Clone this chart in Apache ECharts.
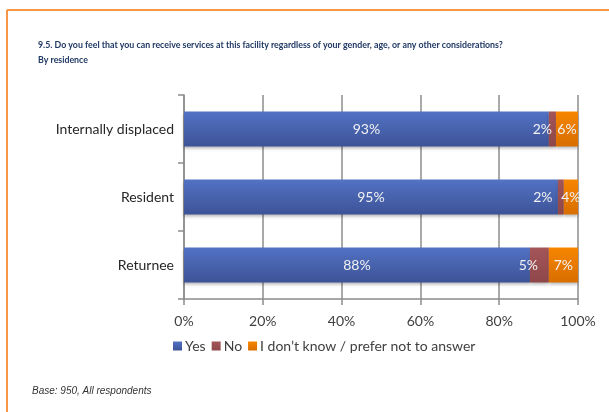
<!DOCTYPE html>
<html>
<head>
<meta charset="utf-8">
<script src="https://cdn.jsdelivr.net/npm/echarts@6/dist/echarts.min.js"></script>
<style>
  html, body { margin: 0; padding: 0; background: #ffffff; }
  #chart { width: 609px; height: 412px; }
</style>
</head>
<body>
<div id="chart"></div>
<script>
// Survey answers by residence group (share of respondents, %)
const categories = ['Internally displaced', 'Resident', 'Returnee'];
const yesValues = [92.6, 94.9, 87.8];
const noValues = [1.8, 1.5, 4.8];
const dontKnowValues = [5.6, 3.6, 7.4];
const seriesNames = ['Yes', 'No', 'I don\u2019t know / prefer not to answer'];
const xTicks = { min: 0, max: 100, step: 20 };

// Small horizontal nudges so the "No" labels do not collide with neighbours
const noLabelNudge = [-10, -18, -11];

const gridLeft = 184, gridTop = 95, gridRight = 31, gridHeight = 204;

function grad(top, bottom) {
  return new echarts.graphic.LinearGradient(0, 0, 0, 1, [
    { offset: 0, color: top },
    { offset: 1, color: bottom }
  ]);
}

const labelBase = {
  show: true,
  color: '#f2f2f2',
  fontFamily: 'Lato, "Open Sans", sans-serif',
  fontSize: 14,
  formatter: p => Math.round(p.value) + '%'
};

const barStyle = {
  shadowColor: 'rgba(0,0,0,0.28)',
  shadowBlur: 3,
  shadowOffsetY: 2
};

const chart = echarts.init(document.getElementById('chart'), null, { renderer: 'canvas' });

chart.setOption({
  animation: false,
  backgroundColor: '#ffffff',
  color: ['#4a64b4', '#9e4f52', '#f07c00'],
  grid: { left: gridLeft, top: gridTop, right: gridRight, height: gridHeight, containLabel: false },
  legend: {
    left: 168,
    top: 334,
    itemWidth: 9,
    itemHeight: 9,
    itemGap: 6,
    icon: 'rect',
    textStyle: { fontFamily: 'Lato, "Open Sans", sans-serif', fontSize: 14, color: '#404040', padding: [0, 0, 0, -2] },
    data: seriesNames
  },
  xAxis: {
    type: 'value',
    min: xTicks.min,
    max: xTicks.max,
    interval: xTicks.step,
    axisLine: { show: true, lineStyle: { color: '#8c8c8c', width: 1.5 } },
    axisTick: { show: true, length: 6, lineStyle: { color: '#8c8c8c', width: 1.5 } },
    splitLine: { show: true, lineStyle: { color: '#8c8c8c', width: 1.5 } },
    axisLabel: {
      formatter: '{value}%',
      margin: 15,
      fontFamily: 'Lato, "Open Sans", sans-serif',
      fontSize: 14,
      color: '#404040'
    }
  },
  yAxis: {
    type: 'category',
    inverse: true,
    data: categories,
    axisLine: { show: true, lineStyle: { color: '#8c8c8c', width: 1.5 } },
    axisTick: { show: true, length: 6, lineStyle: { color: '#8c8c8c', width: 1.5 } },
    axisLabel: {
      margin: 10,
      fontFamily: 'Lato, "Open Sans", sans-serif',
      fontSize: 14,
      color: '#262626'
    }
  },
  series: [
    {
      name: seriesNames[0],
      type: 'bar',
      stack: 'total',
      barWidth: 35,
      itemStyle: Object.assign({ color: grad('#5272c4', '#3d5397') }, barStyle),
      label: Object.assign({ position: 'inside' }, labelBase),
      data: yesValues
    },
    {
      name: seriesNames[1],
      type: 'bar',
      stack: 'total',
      barWidth: 35,
      itemStyle: Object.assign({ color: grad('#a35558', '#8f474a') }, barStyle),
      label: Object.assign({ position: 'inside' }, labelBase),
      data: noValues.map((v, i) => ({ value: v, label: { offset: [noLabelNudge[i], 0] } }))
    },
    {
      name: seriesNames[2],
      type: 'bar',
      stack: 'total',
      barWidth: 35,
      itemStyle: Object.assign({ color: grad('#f78500', '#d86e00') }, barStyle),
      label: Object.assign({ position: 'inside' }, labelBase),
      data: dontKnowValues
    }
  ],
  graphic: [
    // orange frame edges
    { type: 'line', shape: { x1: 7, y1: 10, x2: 609, y2: 10 }, style: { stroke: '#f79646', lineWidth: 2 } },
    { type: 'line', shape: { x1: 7, y1: 10, x2: 7, y2: 412 }, style: { stroke: '#f79646', lineWidth: 2 } },
    {
      type: 'text', left: 38, top: 38,
      style: {
        text: '9.5. Do you feel that you can receive services at this facility regardless of your gender, age, or any other considerations?\nBy residence',
        font: 'bold 8.8px Lato, "Open Sans", sans-serif',
        fill: '#1f3864',
        lineHeight: 15
      }
    },
    {
      type: 'text', left: 32, top: 386,
      style: {
        text: 'Base: 950, All respondents',
        font: 'italic 10px "Liberation Sans", Arial, sans-serif',
        fill: '#333333'
      }
    }
  ]
});
</script>
</body>
</html>
